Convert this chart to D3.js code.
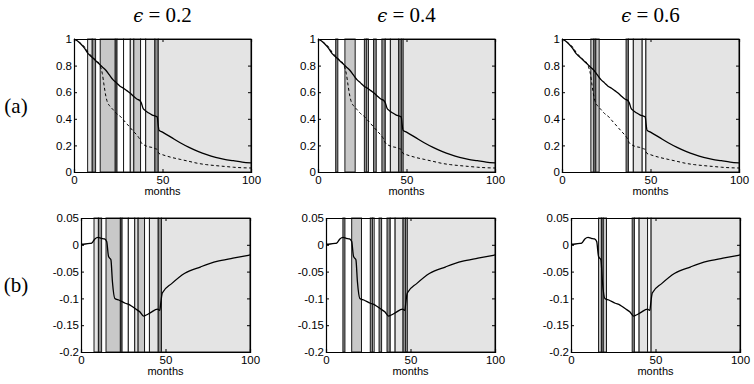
<!DOCTYPE html>
<html><head><meta charset="utf-8">
<script src="https://cdn.jsdelivr.net/npm/d3@7"></script>
<style>
body{margin:0;background:#fff;}
svg text{font-family:"Liberation Sans",Arial,sans-serif;}
</style></head>
<body><svg id="c" width="754" height="384"></svg>
<script>
// ---------- data ----------
const epsTitles = ["0.2", "0.4", "0.6"];
const rowLabels = ["(a)", "(b)"];
const xTicks = [0, 50, 100];
const topYTicks = [0, 0.2, 0.4, 0.6, 0.8, 1];
const botYTicks = [-0.2, -0.15, -0.1, -0.05, 0, 0.05];
const xLabel = "months";

// solid curve (row a)
const solidMonths = [0,2,4,6,8,10,12,14,16,18,20,22,24,26,28,30,32,34,36,37,38,39,40,42,44,46,47,47.5,48,50,55,60,65,70,75,80,85,90,95,100];
const solidValues = [1,0.985,0.96,0.93,0.89,0.865,0.84,0.815,0.79,0.765,0.73,0.695,0.67,0.645,0.63,0.61,0.59,0.565,0.545,0.54,0.52,0.48,0.465,0.445,0.43,0.42,0.415,0.36,0.315,0.3,0.26,0.22,0.185,0.155,0.13,0.11,0.095,0.085,0.075,0.068];
// dashed curve (row a)
const dashMonths = [0,2,4,6,8,10,12,14,15,16,17,18,19,20,22,24,26,28,30,32,34,36,37,38,40,42,44,46,47,48,50,55,60,65,70,75,80,85,90,95,100];
const dashValues = [1,0.985,0.965,0.94,0.9,0.87,0.845,0.82,0.79,0.74,0.65,0.57,0.52,0.5,0.47,0.44,0.42,0.39,0.36,0.33,0.3,0.27,0.25,0.22,0.2,0.19,0.185,0.175,0.17,0.14,0.13,0.11,0.095,0.08,0.065,0.055,0.048,0.042,0.036,0.032,0.03];
// difference curve (row b)
const diffMonths = [0,2.5,5.3,6.3,8.2,10.1,12,13.9,15.2,16.3,17.7,18.6,20,22.4,26.2,29,32,34.8,37,38.6,41.4,45.2,46.6,47.3,48.1,53.8,61.4,70.9,80.4,89.9,100];
const diffValues = [0.001,0.0015,0.0025,0.003,0.011,0.014,0.012,0.011,0.006,-0.022,-0.028,-0.069,-0.1,-0.103,-0.109,-0.1125,-0.119,-0.125,-0.133,-0.131,-0.126,-0.12,-0.1225,-0.106,-0.09,-0.072,-0.053,-0.041,-0.031,-0.025,-0.019];

// shaded bands per epsilon: [start month, end month, shade]
const bandsEps02 = [[7.7,10.3,"L"],[10.3,12.2,"D"],[14.8,23.3,"M"],[23.3,24.3,"D"],[24.3,28,"W"],[28,31.8,"W"],[31.8,33.8,"L"],[33.8,37.6,"M"],[37.6,40.5,"W"],[40.5,45.7,"L"],[45.7,47.6,"D"],[47.6,100,"L"]];
const bandsEps04 = [[10,11.2,"D"],[15.2,21,"M"],[26.2,27.6,"D"],[27.6,28.5,"W"],[31.4,32.9,"D"],[36.1,38,"D"],[38,40.9,"W"],[40.9,45.6,"L"],[45.6,47.1,"D"],[47.1,48.1,"L"],[48.1,100,"L"]];
const bandsEps06 = [[16.3,18,"M"],[18,19.1,"D"],[19.1,21,"M"],[36.2,37.5,"D"],[37.5,40.3,"W"],[40.3,45.3,"L"],[45.3,47.4,"W"],[47.4,100,"L"]];
const bandSets = [bandsEps02, bandsEps04, bandsEps06];
const shadeColor = {W:"#ffffff", L:"#e4e4e4", M:"#c8c8c8", D:"#909090"};

// ---------- layout ----------
const svg = d3.select("#c");
const rows = [
  {x0s:[74,318,562], w:177, top:39, bottom:172, domain:[0,1], ticks:topYTicks},
  {x0s:[81,326,571], w:169, top:218, bottom:352, domain:[-0.2,0.05], ticks:botYTicks}
];

function drawPanel(r, c){
  const row = rows[r];
  const x0 = row.x0s[c], W = row.w;
  const x = d3.scaleLinear().domain([0,100]).range([x0, x0+W]);
  const y = d3.scaleLinear().domain(row.domain).range([row.bottom, row.top]);
  const g = svg.append("g");
  g.append("rect").attr("x",x0).attr("y",row.top).attr("width",W).attr("height",row.bottom-row.top).attr("fill","#fff");
  g.selectAll("rect.band").data(bandSets[c]).enter().append("rect").attr("class","band")
    .attr("x",d=>x(d[0])).attr("width",d=>x(d[1])-x(d[0]))
    .attr("y",row.top).attr("height",row.bottom-row.top)
    .attr("fill",d=>shadeColor[d[2]]).attr("stroke","#1a1a1a").attr("stroke-width",1);
  const line = d3.line().x(d=>x(d[0])).y(d=>y(d[1])).curve(d3.curveMonotoneX);
  if(r===0){
    g.append("path").datum(dashMonths.map((m,i)=>[m,dashValues[i]])).attr("d",line)
      .attr("fill","none").attr("stroke","#000").attr("stroke-width",1).attr("stroke-dasharray","3,2.5");
    g.append("path").datum(solidMonths.map((m,i)=>[m,solidValues[i]])).attr("d",line)
      .attr("fill","none").attr("stroke","#000").attr("stroke-width",1.3);
  } else {
    g.append("path").datum(diffMonths.map((m,i)=>[m,diffValues[i]])).attr("d",line)
      .attr("fill","none").attr("stroke","#000").attr("stroke-width",1.3);
  }
  g.append("g").attr("transform",`translate(0,${row.bottom})`)
    .call(d3.axisBottom(x).tickValues(xTicks).tickSize(-3).tickPadding(4).tickFormat(d=>String(d)));
  g.append("g").attr("transform",`translate(${x0},0)`)
    .call(d3.axisLeft(y).tickValues(row.ticks).tickSize(-3).tickPadding(2).tickFormat(d=>String(d)));
  g.append("g").attr("transform",`translate(0,${row.top})`)
    .call(d3.axisTop(x).tickValues(xTicks).tickSize(-3).tickFormat(""));
  g.append("g").attr("transform",`translate(${x0+W},0)`)
    .call(d3.axisRight(y).tickValues(row.ticks).tickSize(-3).tickFormat(""));
  g.selectAll(".domain").attr("stroke","#000").attr("stroke-width",1.2);
  g.selectAll(".tick line").attr("stroke","#000");
  g.selectAll(".tick text").attr("font-size",11.5).attr("fill","#000")
    .style("font-family","'Liberation Sans',Arial,sans-serif");
  g.append("text").attr("x",x(50)).attr("y",row.bottom+23).attr("text-anchor","middle")
    .attr("font-size",11).text(xLabel);
}

for(let r=0;r<2;r++) for(let c=0;c<3;c++) drawPanel(r,c);

epsTitles.forEach((t,c)=>{
  const cx = rows[0].x0s[c] + rows[0].w/2;
  const tx = svg.append("text").attr("x",cx).attr("y",22).attr("text-anchor","middle")
    .style("font-family","'Liberation Serif','DejaVu Serif',serif").attr("font-size",21);
  tx.append("tspan").style("font-style","italic").style("font-family","'DejaVu Serif',serif").attr("font-size",18).text("\u03F5");
  tx.append("tspan").text(" = " + t);
});
rowLabels.forEach((t,r)=>{
  const cy = (rows[r].top + rows[r].bottom)/2 + 7;
  svg.append("text").attr("x",16).attr("y",cy).attr("text-anchor","middle")
    .style("font-family","'Liberation Serif','DejaVu Serif',serif").attr("font-size",21).text(t);
});
</script></body></html>
